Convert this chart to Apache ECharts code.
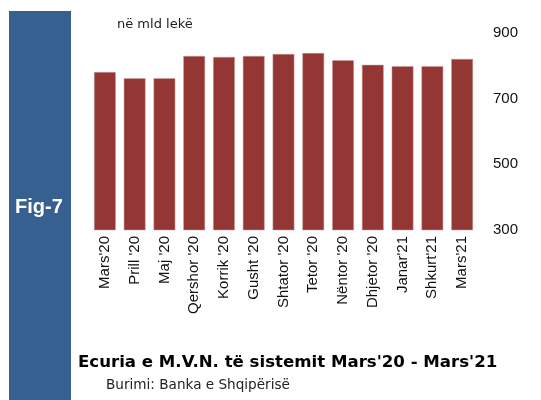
<!DOCTYPE html>
<html>
<head>
<meta charset="utf-8">
<script src="https://cdn.jsdelivr.net/npm/echarts@6/dist/echarts.min.js"></script>
<style>
  html, body { margin: 0; padding: 0; background: #fff; }
  #chart { width: 541px; height: 400px; }
</style>
</head>
<body>
<div id="chart"></div>
<script>
// muajt
const months = ["Mars'20", "Prill '20", "Maj '20", "Qershor '20", "Korrik '20", "Gusht '20",
  "Shtator '20", "Tetor '20", "Nëntor '20", "Dhjetor '20", "Janar'21", "Shkurt'21", "Mars'21"]
// MVN, mld lekë
const mvn = [781, 762, 762, 830, 827, 830, 836, 839, 817, 803, 799, 799, 821]
const yTicks = [300, 500, 700, 900]

const font = 'Arial, "Liberation Sans", sans-serif'
const wide = '"DejaVu Sans", sans-serif'
const chart = echarts.init(document.getElementById('chart'))

chart.setOption({
  animation: false,
  grid: {
    left: 90,
    right: 64,
    top: 33,
    bottom: 170
  },
  graphic: [
    {
      type: 'rect',
      left: 9,
      top: 11,
      shape: { width: 62, height: 389 },
      style: { fill: '#36608f' }
    },
    {
      type: 'text',
      left: 15,
      top: 197,
      style: { text: 'Fig-7', fill: '#fff', font: 'bold 20px ' + font }
    },
    {
      type: 'text',
      left: 117,
      top: 18,
      style: { text: 'në mld lekë', fill: '#222', font: '13px ' + wide }
    },
    {
      type: 'text',
      left: 78,
      top: 354,
      style: { text: "Ecuria e M.V.N. të sistemit Mars'20 - Mars'21", fill: '#000', font: 'bold 16.6px ' + wide }
    },
    {
      type: 'text',
      left: 106,
      top: 378,
      style: { text: 'Burimi: Banka e Shqipërisë', fill: '#222', font: '13.6px ' + wide }
    }
  ],
  xAxis: {
    type: 'category',
    data: months,
    axisLine: { show: false },
    axisTick: { show: false },
    axisLabel: {
      rotate: 90,
      interval: 0,
      color: '#111',
      fontSize: 15,
      fontFamily: font,
      margin: 6
    }
  },
  yAxis: {
    type: 'value',
    position: 'right',
    min: 300,
    max: 900,
    interval: 200,
    splitLine: { show: false },
    axisLine: { show: false },
    axisTick: { show: false },
    axisLabel: {
      color: '#111',
      fontSize: 15,
      fontFamily: font,
      margin: 16,
      formatter: v => yTicks.includes(v) ? String(v) : ''
    }
  },
  series: [{
    type: 'bar',
    data: mvn,
    barCategoryGap: '27%',
    itemStyle: {
      color: '#943634',
      borderColor: '#c9a09f',
      borderWidth: 0.5
    }
  }]
})
</script>
</body>
</html>
